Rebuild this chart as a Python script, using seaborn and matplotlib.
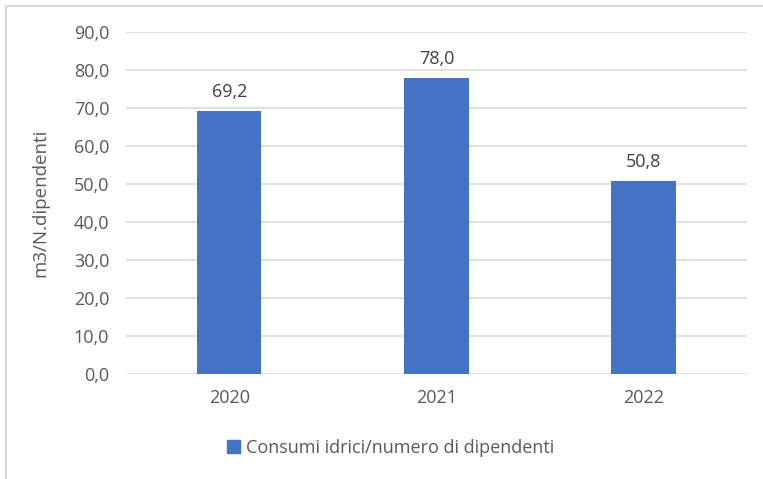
import matplotlib.pyplot as plt
import matplotlib.patches as mpatches
import seaborn as sns
import pandas as pd

years  = ['2020', '2021', '2022']
values = [69.2, 78.0, 50.8]
series = 'Consumi idrici/numero di dipendenti'
yticks = [0, 10, 20, 30, 40, 50, 60, 70, 80, 90]

sns.set_style('white')
plt.rcParams.update({'font.family': ['Open Sans', 'DejaVu Sans'],
                     'font.size': 13,
                     'text.color': '#595959',
                     'axes.labelcolor': '#595959',
                     'xtick.color': '#595959',
                     'ytick.color': '#595959'})

df = pd.DataFrame({'anno': years, 'valore': values})

fig = plt.figure(figsize=(7.63, 4.79), dpi=100)
ax = fig.add_axes([0.165, 0.219, 0.814, 0.714])

sns.barplot(data=df, x='anno', y='valore', color='#4472C4', width=0.31,
            saturation=1, ax=ax, zorder=3, linewidth=0)

for i, v in enumerate(values):
    ax.annotate(f'{v:.1f}'.replace('.', ','), (i, v), xytext=(0, 7),
                textcoords='offset points', ha='center', va='bottom',
                fontsize=13, color='#404040')

ax.set_ylim(0, 90)
ax.set_yticks(yticks)
ax.set_yticklabels([f'{t:.1f}'.replace('.', ',') for t in yticks])
ax.yaxis.grid(True, color='#D9D9D9', lw=1.1, zorder=0)
ax.tick_params(axis='both', length=0, pad=12)
ax.tick_params(axis='x', pad=11)
for s in ax.spines.values():
    s.set_visible(False)
ax.set_xlabel('')
ax.set_ylabel('m3/N.dipendenti', fontsize=13.5)
ax.yaxis.set_label_coords(-0.123, 0.5)

handle = mpatches.Patch(color='#4472C4', label=series)
fig.legend(handles=[handle], loc='center', bbox_to_anchor=(391 / 763, 1 - 448 / 479),
           frameon=False, handlelength=0.7, handleheight=0.7, handletextpad=0.35,
           fontsize=13)

# outer chart frame
fig.patches.append(mpatches.Rectangle((6 / 763, -0.05), 1.1, 1 - 6 / 479 + 0.05,
                                      transform=fig.transFigure, fill=False,
                                      edgecolor='#D9D9D9', lw=1.5, zorder=0))

fig.savefig('out.png', dpi=100)
